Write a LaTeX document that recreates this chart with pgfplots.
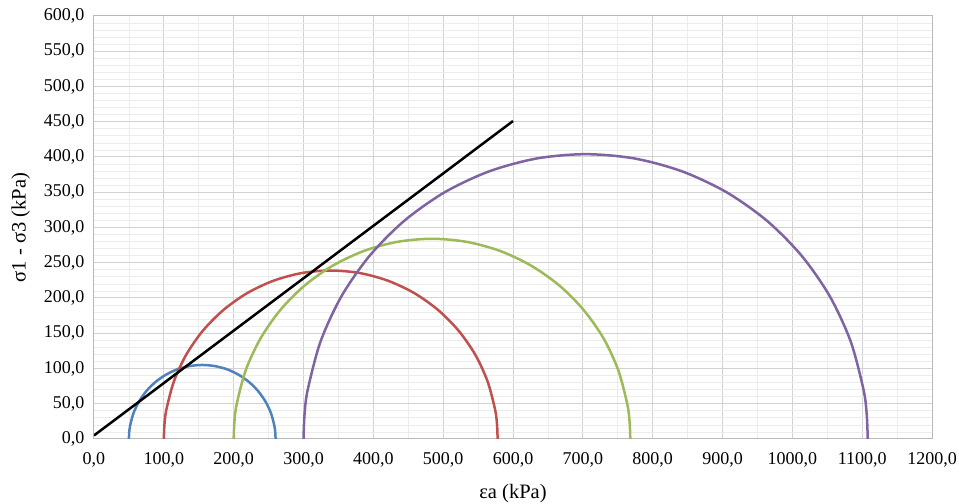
\documentclass[border=0pt]{standalone}
\usepackage{fontspec}
\setmainfont{Liberation Serif}
\usepackage{pgfplots}
\pgfplotsset{compat=1.18}
\definecolor{cblue}{HTML}{4F81BD}
\definecolor{cred}{HTML}{C0504D}
\definecolor{cgreen}{HTML}{9BBB59}
\definecolor{cpurple}{HTML}{8064A2}
\begin{document}
\begin{tikzpicture}
\begin{axis}[
    name=ax,
    scale only axis,
    width=838pt, height=423pt,
    xmin=0, xmax=1200, ymin=0, ymax=600,
    xtick distance=100, ytick distance=50,
    minor x tick num=1, minor y tick num=4,
    grid=both,
    major grid style={gray!35, line width=1pt},
    minor grid style={gray!15, line width=0.7pt},
    axis line style={gray!55, line width=1pt},
    major tick length=0pt, minor tick length=0pt,
    tick label style={font=\fontsize{18}{21}\selectfont},
    /pgf/number format/assume math mode=true,
    /pgf/number format/.cd, fixed, fixed zerofill, precision=1, use comma, 1000 sep={},
    /pgfplots/.cd,
    xticklabel style={yshift=-10pt},
    yticklabel style={xshift=-6pt},
    xlabel={εa (kPa)},
    ylabel={σ1 - σ3 (kPa)},
    label style={font=\fontsize{20.5}{24}\selectfont},
    xlabel style={yshift=-10pt},
    ylabel style={yshift=7pt},
    every axis plot/.append style={line width=2.5pt, no markers},
]
\addplot[cblue, smooth] coordinates {
(50,0)(50.4,9.2)(51.6,18.2)(56.3,35.9)(64.1,52.5)(74.6,67.5)(87.5,80.4)(102.5,90.9)(119.1,98.7)(136.8,103.4)(155,105)
(173.2,103.4)(190.9,98.7)(207.5,90.9)(222.5,80.4)(235.4,67.5)(245.9,52.5)(253.7,35.9)(258.4,18.2)(259.6,9.2)(260,0)};
\addplot[cred, smooth] coordinates {
(100,0)(100.9,20.8)(103.6,41.5)(114.4,81.7)(132.0,119.5)(155.9,153.6)(185.4,183.1)(219.5,207.0)(257.3,224.6)(297.5,235.4)(339,239)
(380.5,235.4)(420.7,224.6)(458.5,207.0)(492.6,183.1)(522.1,153.6)(546.0,119.5)(563.6,81.7)(574.4,41.5)(577.1,20.8)(578,0)};
\addplot[cgreen, smooth] coordinates {
(200,0)(201.1,24.8)(204.3,49.3)(217.1,97.1)(238.1,142.0)(266.5,182.6)(301.4,217.5)(342,245.9)(386.9,266.9)(434.7,279.7)(484,284)
(533.3,279.7)(581.1,266.9)(626,245.9)(666.6,217.5)(701.5,182.6)(730.1,142.0)(750.9,97.1)(763.7,49.3)(766.9,24.8)(768,0)};
\addplot[cpurple, smooth] coordinates {
(300,0)(301.5,35.2)(306.1,70.1)(324.4,138.2)(354.1,202)(394.5,259.7)(444.3,309.5)(502,349.9)(565.8,379.6)(633.9,397.9)(704,404)
(774.1,397.9)(842.2,379.6)(906,349.9)(963.7,309.5)(1013.5,259.7)(1053.9,202)(1083.6,138.2)(1101.9,70.1)(1106.5,35.2)(1108,0)};
\addplot[black] coordinates {(0,5)(600,451)};
\end{axis}
\pgfresetboundingbox
\path[use as bounding box] ([xshift=-94pt,yshift=-65pt]ax.south west) rectangle ([xshift=27pt,yshift=16pt]ax.north east);
\end{tikzpicture}
\end{document}
